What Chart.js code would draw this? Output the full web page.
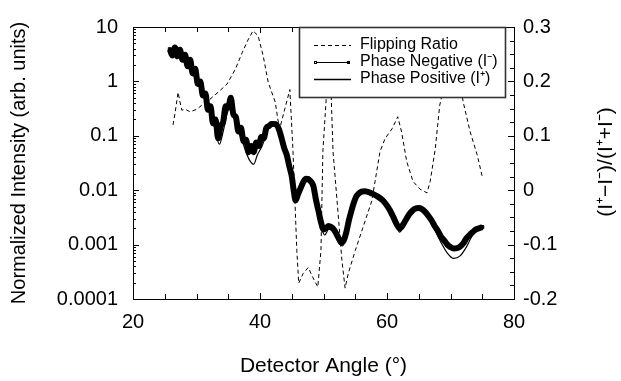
<!DOCTYPE html>
<html>
<head>
<meta charset="utf-8">
<script src="https://cdn.jsdelivr.net/npm/chart.js@4/dist/chart.umd.min.js"></script>
<style>
html,body{margin:0;padding:0;background:#fff;}
#wrap{width:621px;height:381px;position:relative;}
</style>
</head>
<body>
<div id="wrap"><canvas id="c" width="621" height="381"></canvas></div>
<script>
// ---- data ----
const xTickValues = [20, 40, 60, 80];
const yTickValues = [0.0001, 0.001, 0.01, 0.1, 1, 10];
const yTickLabels = ['0.0001', '0.001', '0.01', '0.1', '1', '10'];
const y2TickValues = [-0.2, -0.1, 0, 0.1, 0.2, 0.3];
const y2TickLabels = ['-0.2', '-0.1', '0', '0.1', '0.2', '0.3'];

const seriesNames = ['Flipping Ratio', 'Phase Negative (I\u207B)', 'Phase Positive (I\u207A)'];

const flipAngle = [26.3, 26.6, 27.1, 27.4, 27.7, 28.2, 29.0, 30.1, 31.0, 32.1, 33.4, 34.8, 36.1, 37.2, 38.1, 38.9, 39.7, 40.5, 41.3, 42.4, 42.8, 43.1, 43.9, 44.7, 45.2, 45.8, 46.1, 46.8, 47.6, 48.3, 49.1, 49.6, 49.9, 50.6, 51.0, 51.5, 52.9, 53.4, 53.9, 55.0, 56.2, 57.6, 58.9, 59.7, 60.8, 61.7, 62.3, 63.1, 64.1, 65.2, 66.3, 66.8, 67.6, 68.3, 70.5, 72.0, 73.1, 74.2, 75.0];
const flipRatio = [0.12, 0.14, 0.18, 0.162, 0.147, 0.149, 0.144, 0.149, 0.158, 0.167, 0.18, 0.195, 0.222, 0.253, 0.276, 0.293, 0.284, 0.247, 0.198, 0.162, 0.131, 0.113, 0.149, 0.185, 0.071, -0.111, -0.171, -0.153, -0.142, -0.16, -0.178, -0.111, 0.071, 0.2, 0.25, 0.071, -0.129, -0.18, -0.153, -0.111, -0.069, -0.02, 0.071, 0.095, 0.113, 0.135, 0.107, 0.053, 0.016, 0.002, -0.005, 0.016, 0.076, 0.156, 0.27, 0.162, 0.107, 0.065, 0.025];

const negAngle = [25.8, 26.2, 26.6, 27.0, 27.4, 27.8, 28.2, 28.6, 29.0, 29.4, 29.8, 30.2, 30.6, 31.0, 31.4, 31.8, 32.2, 32.6, 33.0, 33.4, 33.8, 34.2, 34.6, 35.0, 35.4, 35.8, 36.2, 36.6, 37.0, 37.4, 37.8, 38.2, 38.6, 39.0, 39.4, 39.8, 40.2, 40.6, 41.0, 41.4, 41.8, 42.2, 42.6, 43.0, 43.4, 43.8, 44.2, 44.6, 45.0, 45.3, 45.6, 46.0, 46.4, 46.8, 47.2, 47.6, 48.0, 48.4, 48.8, 49.2, 49.6, 50.0, 50.4, 50.8, 51.2, 51.6, 52.0, 52.4, 52.8, 53.2, 53.6, 54.0, 54.4, 54.8, 55.2, 55.6, 56.0, 56.5, 57.0, 57.5, 58.0, 58.5, 59.0, 59.5, 60.0, 60.5, 61.0, 61.5, 62.0, 62.5, 63.0, 63.5, 64.0, 64.5, 65.0, 65.5, 66.0, 66.5, 67.0, 67.5, 68.0, 68.5, 69.0, 69.5, 70.0, 70.5, 71.0, 71.5, 72.0, 72.5, 73.0, 73.5, 74.0, 74.5, 75.0];
const negIntensity = [3.9, 3.0, 4.2, 2.9, 3.8, 2.5, 3.1, 1.9, 2.5, 1.4, 1.7, 0.9, 1.0, 0.55, 0.6, 0.3, 0.35, 0.17, 0.2, 0.09, 0.15, 0.18, 0.35, 0.33, 0.5, 0.25, 0.22, 0.12, 0.14, 0.08, 0.085, 0.05, 0.065, 0.05, 0.075, 0.065, 0.095, 0.09, 0.14, 0.15, 0.165, 0.165, 0.16, 0.13, 0.09, 0.06, 0.045, 0.028, 0.018, 0.01, 0.0065, 0.0085, 0.011, 0.014, 0.016, 0.0158, 0.0145, 0.012, 0.0068, 0.0042, 0.0026, 0.0019, 0.002, 0.0022, 0.0021, 0.0019, 0.0016, 0.0013, 0.0011, 0.0012, 0.0017, 0.0028, 0.0042, 0.006, 0.0078, 0.0088, 0.0094, 0.0096, 0.0093, 0.0088, 0.0083, 0.0077, 0.007, 0.0062, 0.0052, 0.0042, 0.0032, 0.0024, 0.002, 0.0023, 0.0029, 0.0036, 0.0042, 0.0046, 0.0047, 0.0045, 0.004, 0.0034, 0.0028, 0.0022, 0.0018, 0.0014, 0.0012, 0.001, 0.0009, 0.00085, 0.00086, 0.00092, 0.00105, 0.0013, 0.0015, 0.0017, 0.0019, 0.002, 0.0021];

const posAngle = [25.8, 26.5, 27.2, 28.0, 28.8, 29.6, 30.4, 31.2, 32.0, 32.8, 33.6, 34.2, 34.8, 35.4, 36.0, 36.6, 37.2, 37.8, 38.4, 39.0, 39.6, 40.2, 40.8, 41.4, 42.0, 42.6, 43.2, 43.8, 44.4, 45.0, 45.5, 46.0, 46.6, 47.2, 47.8, 48.4, 49.0, 49.6, 50.2, 50.8, 51.4, 52.0, 52.6, 53.0, 53.6, 54.2, 54.8, 55.5, 56.5, 57.5, 58.5, 59.5, 60.5, 61.5, 62.0, 62.5, 63.5, 64.5, 65.5, 66.5, 67.5, 68.5, 69.5, 70.5, 71.5, 72.5, 73.5, 74.5, 75.0];
const posIntensity = [3.5, 3.0, 3.4, 2.5, 2.0, 1.4, 0.9, 0.55, 0.3, 0.15, 0.07, 0.12, 0.25, 0.35, 0.22, 0.12, 0.08, 0.05, 0.035, 0.03, 0.045, 0.06, 0.09, 0.14, 0.17, 0.16, 0.12, 0.06, 0.035, 0.016, 0.0065, 0.0085, 0.013, 0.018, 0.0175, 0.012, 0.0055, 0.0022, 0.0015, 0.0019, 0.0018, 0.0014, 0.001, 0.00095, 0.0014, 0.0033, 0.0058, 0.0085, 0.0096, 0.0088, 0.0076, 0.0061, 0.004, 0.0021, 0.0017, 0.002, 0.0035, 0.0047, 0.0045, 0.0032, 0.0019, 0.0011, 0.0007, 0.00056, 0.00062, 0.0009, 0.0015, 0.0019, 0.002];

const FONT = '"Liberation Sans", Arial, Helvetica, sans-serif';
const pts = (xs, ys) => xs.map((x, i) => ({x: x, y: ys[i]}));

const decorPlugin = {
  id: 'decor',
  afterDraw(chart) {
    const ctx = chart.ctx;
    const a = chart.chartArea;
    const sx = chart.scales.x, sy = chart.scales.y, sy2 = chart.scales.y2;
    ctx.save();
    ctx.strokeStyle = '#000';
    ctx.lineWidth = 1;
    // inward tick marks
    ctx.beginPath();
    for (let v = 20; v <= 80; v += 5) {
      const px = Math.round(sx.getPixelForValue(v)) + 0.5;
      const len = (v % 20 === 0) ? 6 : 5;
      ctx.moveTo(px, a.bottom); ctx.lineTo(px, a.bottom - len);
      ctx.moveTo(px, a.top); ctx.lineTo(px, a.top + len);
    }
    for (let e = -4; e <= 0; e++) {
      for (let m = 1; m <= 9; m++) {
        const v = m * Math.pow(10, e);
        const py = Math.round(sy.getPixelForValue(v)) + 0.5;
        const len = m === 1 ? 6 : 3;
        ctx.moveTo(a.left, py); ctx.lineTo(a.left + len, py);
      }
    }
    {
      const py = Math.round(sy.getPixelForValue(10)) + 0.5;
      ctx.moveTo(a.left, py); ctx.lineTo(a.left + 6, py);
    }
    for (let k = 0; k <= 20; k++) {
      const v = -0.2 + k * 0.025;
      const py = Math.round(sy2.getPixelForValue(v)) + 0.5;
      const len = (k % 4 === 0) ? 6 : 4;
      ctx.moveTo(a.right, py); ctx.lineTo(a.right - len, py);
    }
    ctx.stroke();
    // frame
    ctx.strokeRect(Math.round(a.left) + 0.5, Math.round(a.top) + 0.5, Math.round(a.right - a.left), Math.round(a.bottom - a.top));

    // legend box
    const lx = 299, ly = 27, lw = 206, lh = 70;
    ctx.fillStyle = '#fff';
    ctx.fillRect(lx, ly, lw, lh);
    ctx.strokeStyle = '#333';
    ctx.lineWidth = 1.6;
    ctx.strokeRect(lx + 0.5, ly + 0.5, lw, lh);
    ctx.strokeStyle = '#000';
    ctx.lineWidth = 1;
    ctx.setLineDash([4, 3]);
    ctx.beginPath(); ctx.moveTo(314, 45.5); ctx.lineTo(351, 45.5); ctx.stroke();
    ctx.setLineDash([]);
    ctx.beginPath(); ctx.moveTo(316, 62.5); ctx.lineTo(349, 62.5); ctx.stroke();
    ctx.strokeRect(314.5, 61.5, 2, 2);
    ctx.strokeRect(347.5, 61.5, 2, 2);
    ctx.lineWidth = 1.5;
    ctx.beginPath(); ctx.moveTo(314, 79.5); ctx.lineTo(351, 79.5); ctx.stroke();
    ctx.fillStyle = '#000';
    ctx.font = '16px ' + FONT;
    ctx.textAlign = 'left';
    ctx.textBaseline = 'middle';
    ctx.fillText(seriesNames[0], 360, 45);
    ctx.fillText(seriesNames[1], 360, 62);
    ctx.fillText(seriesNames[2], 360, 79);

    // right axis title (reads bottom-to-top)
    ctx.translate(606, 162);
    ctx.rotate(-Math.PI / 2);
    ctx.font = '21px ' + FONT;
    ctx.textAlign = 'center';
    ctx.fillText('(I\u207A\u2212I\u207B)/(I\u207A+I\u207B)', 0, 0);
    ctx.restore();
  }
};

new Chart(document.getElementById('c'), {
  type: 'line',
  data: {
    datasets: [
      {
        label: seriesNames[0],
        data: pts(flipAngle, flipRatio),
        yAxisID: 'y2',
        borderColor: '#000',
        borderWidth: 1,
        borderDash: [4, 3],
        pointRadius: 0,
        tension: 0
      },
      {
        label: seriesNames[1],
        data: pts(negAngle, negIntensity),
        yAxisID: 'y',
        borderColor: '#000',
        borderWidth: 6,
        pointStyle: 'rect',
        pointRadius: 2.2,
        pointBorderWidth: 1,
        pointBorderColor: '#000',
        pointBackgroundColor: '#000',
        cubicInterpolationMode: 'monotone'
      },
      {
        label: seriesNames[2],
        data: pts(posAngle, posIntensity),
        yAxisID: 'y',
        borderColor: '#000',
        borderWidth: 1.2,
        pointRadius: 0,
        cubicInterpolationMode: 'monotone'
      }
    ]
  },
  options: {
    responsive: false,
    animation: false,
    events: [],
    layout: { padding: { top: 24, left: 0, right: 0, bottom: 0 } },
    plugins: { legend: { display: false }, tooltip: { enabled: false }, title: { display: false } },
    scales: {
      x: {
        type: 'linear', min: 20, max: 80,
        grid: { display: false, drawTicks: false },
        border: { display: false },
        afterBuildTicks: s => { s.ticks = xTickValues.map(v => ({value: v})); },
        afterFit: s => { s.height = 82; },
        ticks: { color: '#000', font: { family: FONT, size: 20 }, padding: 11, maxRotation: 0, autoSkip: false, callback: v => String(v) },
        title: { display: true, text: 'Detector Angle (\u00B0)', color: '#000', font: { family: FONT, size: 21 }, padding: { top: 0, bottom: 2 } }
      },
      y: {
        type: 'logarithmic', position: 'left', min: 0.0001, max: 10,
        grid: { display: false, drawTicks: false },
        border: { display: false },
        afterBuildTicks: s => { s.ticks = yTickValues.map(v => ({value: v})); },
        afterFit: s => { s.width = 133; },
        ticks: { color: '#000', font: { family: FONT, size: 20 }, padding: 15, autoSkip: false, callback: (v, i) => yTickLabels[i] },
        title: { display: true, text: 'Normalized Intensity (arb. units)', color: '#000', font: { family: FONT, size: 20 }, padding: { top: 7, bottom: 0 } }
      },
      y2: {
        type: 'linear', position: 'right', min: -0.2, max: 0.3,
        grid: { display: false, drawTicks: false },
        border: { display: false },
        afterBuildTicks: s => { s.ticks = y2TickValues.map(v => ({value: v})); },
        afterFit: s => { s.width = 107; },
        ticks: { color: '#000', font: { family: FONT, size: 20 }, padding: 9, autoSkip: false, callback: (v, i) => y2TickLabels[i] }
      }
    }
  },
  plugins: [decorPlugin]
});
</script>
</body>
</html>
